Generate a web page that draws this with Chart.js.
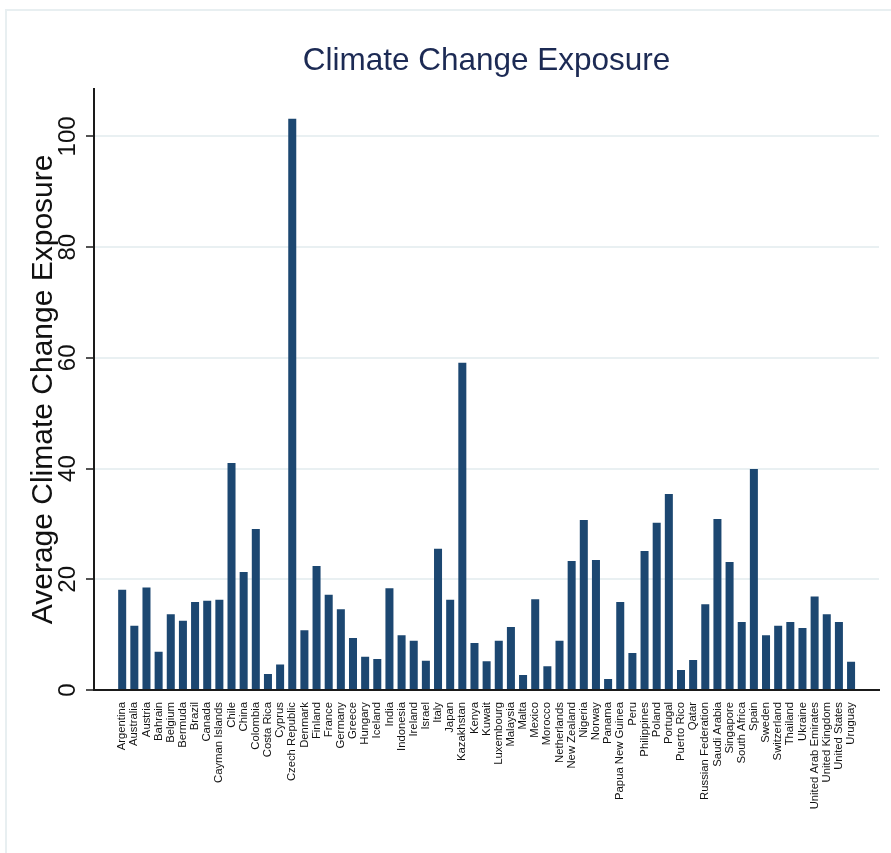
<!DOCTYPE html>
<html>
<head>
<meta charset="utf-8">
<script src="https://cdn.jsdelivr.net/npm/chart.js@4/dist/chart.umd.min.js"></script>
<style>
  html, body { margin: 0; padding: 0; background: #ffffff; }
  #wrap { position: relative; width: 891px; height: 853px; }
</style>
</head>
<body>
<div id="wrap"><canvas id="c" width="891" height="853"></canvas></div>
<script>
const chartTitle = "Climate Change Exposure";
const yAxisTitle = "Average Climate Change Exposure";
const countries = [
  "Argentina","Australia","Austria","Bahrain","Belgium","Bermuda","Brazil","Canada","Cayman Islands","Chile",
  "China","Colombia","Costa Rica","Cyprus","Czech Republic","Denmark","Finland","France","Germany","Greece",
  "Hungary","Iceland","India","Indonesia","Ireland","Israel","Italy","Japan","Kazakhstan","Kenya",
  "Kuwait","Luxembourg","Malaysia","Malta","Mexico","Morocco","Netherlands","New Zealand","Nigeria","Norway",
  "Panama","Papua New Guinea","Peru","Philippines","Poland","Portugal","Puerto Rico","Qatar","Russian Federation","Saudi Arabia",
  "Singapore","South Africa","Spain","Sweden","Switzerland","Thailand","Ukraine","United Arab Emirates","United Kingdom","United States",
  "Uruguay"
];
const exposure = [
  18.1, 11.6, 18.5, 6.9, 13.7, 12.5, 15.9, 16.1, 16.3, 41.0,
  21.3, 29.1, 2.9, 4.6, 103.2, 10.8, 22.4, 17.2, 14.6, 9.4,
  6.0, 5.6, 18.4, 9.9, 8.9, 5.3, 25.5, 16.3, 59.1, 8.5,
  5.2, 8.9, 11.4, 2.7, 16.4, 4.3, 8.9, 23.3, 30.7, 23.5,
  2.0, 15.9, 6.7, 25.1, 30.2, 35.4, 3.6, 5.4, 15.5, 30.9,
  23.1, 12.3, 39.9, 9.9, 11.6, 12.3, 11.2, 16.9, 13.7, 12.3,
  5.1
];
const yTicks = [0, 20, 40, 60, 80, 100];

const FONT = "'Liberation Sans', Arial, Helvetica, sans-serif";

const framePlugin = {
  id: 'frame',
  beforeDraw(chart) {
    const ctx = chart.ctx;
    ctx.save();
    ctx.fillStyle = '#ffffff';
    ctx.fillRect(0, 0, chart.width, chart.height);
    ctx.strokeStyle = '#e8eff1';
    ctx.lineWidth = 2;
    ctx.beginPath();
    ctx.moveTo(6, chart.height);
    ctx.lineTo(6, 10);
    ctx.lineTo(chart.width, 10);
    ctx.stroke();
    ctx.restore();
  }
};

new Chart(document.getElementById('c'), {
  type: 'bar',
  data: {
    datasets: [{
      data: exposure.map((v, i) => ({ x: i, y: v })),
      backgroundColor: '#1c4771',
      borderWidth: 0,
      barPercentage: 0.66,
      categoryPercentage: 1.0
    }]
  },
  options: {
    responsive: false,
    animation: false,
    devicePixelRatio: 1,
    layout: { padding: { left: 0, right: 12, top: 0, bottom: 0 } },
    plugins: {
      legend: { display: false },
      tooltip: { enabled: false },
      title: {
        display: true,
        fullSize: false,
        text: chartTitle,
        color: '#1c2a54',
        font: { family: FONT, size: 31.5, weight: 'normal', lineHeight: 1.2 },
        padding: { top: 42, bottom: 9 }
      }
    },
    scales: {
      x: {
        type: 'linear',
        min: -2.32,
        max: 62.3,
        offset: false,
        afterBuildTicks(scale) {
          scale.ticks = countries.map((_, i) => ({ value: i }));
        },
        afterFit(scale) { scale.height = 163; },
        grid: { display: true, color: 'rgba(0,0,0,0)', drawTicks: false },
        border: { display: true, color: '#1a1a1a', width: 2 },
        ticks: {
          autoSkip: false,
          minRotation: 90,
          maxRotation: 90,
          padding: 12,
          color: '#111111',
          font: { family: FONT, size: 11.3 },
          callback: (v) => countries[v] ?? ''
        }
      },
      y: {
        min: 0,
        max: 108.6,
        afterBuildTicks(scale) {
          scale.ticks = yTicks.map(v => ({ value: v }));
        },
        afterFit(scale) { scale.width = 94; },
        grid: { color: '#e9f0f2', lineWidth: 2, tickLength: 8, tickColor: '#1a1a1a', tickWidth: 1.5 },
        border: { display: true, color: '#1a1a1a', width: 2 },
        ticks: {
          minRotation: 90,
          maxRotation: 90,
          crossAlign: 'center',
          padding: -2,
          color: '#111111',
          font: { family: FONT, size: 24 }
        },
        title: {
          display: true,
          text: yAxisTitle,
          color: '#111111',
          font: { family: FONT, size: 30, lineHeight: 1.2 },
          padding: { top: 26, bottom: 0 }
        }
      }
    }
  },
  plugins: [framePlugin]
});
</script>
</body>
</html>
